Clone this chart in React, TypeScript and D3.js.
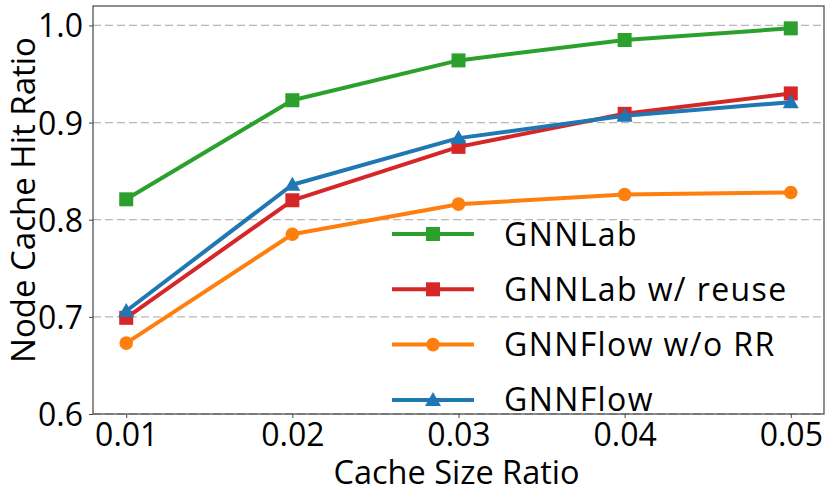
import { useEffect, useRef } from 'react';
import * as d3 from 'd3';

const cacheRatios = [0.01, 0.02, 0.03, 0.04, 0.05];
const xTicks = ['0.01', '0.02', '0.03', '0.04', '0.05'];
const yTicks = [0.6, 0.7, 0.8, 0.9, 1.0];

const gnnlab = [0.821, 0.923, 0.964, 0.985, 0.997];
const gnnlabReuse = [0.699, 0.820, 0.875, 0.909, 0.930];
const gnnflowNoRR = [0.673, 0.785, 0.816, 0.826, 0.828];
const gnnflow = [0.706, 0.836, 0.884, 0.907, 0.921];

const seriesNames = ['GNNLab', 'GNNLab w/ reuse', 'GNNFlow w/o RR', 'GNNFlow'];
const seriesColors = ['#2ca02c', '#d62728', '#ff7f0e', '#1f77b4'];
const seriesMarkers = ['square', 'square', 'circle', 'triangle'];

const FONT = '"Open Sans", sans-serif';

export default function App() {
  const svgRef = useRef<SVGSVGElement>(null);

  useEffect(() => {
    if (!svgRef.current) return;
    document.body.style.margin = '0';

    const svg = d3.select(svgRef.current);
    svg.selectAll('*').remove();

    const width = 830;
    const height = 497;
    const margin = { top: 6, right: 6, bottom: 83, left: 93 };
    const plotW = width - margin.left - margin.right;
    const plotH = height - margin.top - margin.bottom;

    const x = d3.scaleLinear().domain([0.008, 0.052]).range([0, plotW]);
    const y = d3.scaleLinear().domain([0.6, 1.02]).range([plotH, 0]);

    const g = svg.append('g').attr('transform', `translate(${margin.left},${margin.top})`);

    // Grid lines (horizontal, dashed)
    g.append('g')
      .selectAll('line')
      .data(yTicks)
      .enter()
      .append('line')
      .attr('x1', 0)
      .attr('x2', plotW)
      .attr('y1', d => y(d))
      .attr('y2', d => y(d))
      .attr('stroke', '#b8b8b8')
      .attr('stroke-width', 1.3)
      .attr('stroke-dasharray', '8,4');

    // X axis
    const xAxis = g.append('g')
      .attr('transform', `translate(0,${plotH})`)
      .call(d3.axisBottom(x)
        .tickValues(cacheRatios)
        .tickSize(4)
        .tickPadding(5)
        .tickFormat((_, i) => xTicks[i]));
    xAxis.select('.domain').remove();
    xAxis.selectAll('text').attr('font-size', 32).attr('font-family', FONT).attr('fill', '#000');
    xAxis.selectAll('line').attr('stroke', '#444');

    // Y axis
    const yAxis = g.append('g')
      .call(d3.axisLeft(y)
        .tickValues(yTicks)
        .tickSize(4)
        .tickPadding(6)
        .tickFormat(d => d3.format('.1f')(d as number)));
    yAxis.select('.domain').remove();
    yAxis.selectAll('text').attr('font-size', 32).attr('font-family', FONT).attr('fill', '#000').attr('dy', '0.36em');
    yAxis.selectAll('line').attr('stroke', '#444');

    // Frame
    g.append('rect')
      .attr('width', plotW)
      .attr('height', plotH)
      .attr('fill', 'none')
      .attr('stroke', '#444')
      .attr('stroke-width', 1.2);

    const allSeries = [gnnlab, gnnlabReuse, gnnflowNoRR, gnnflow];

    const line = d3.line<number>()
      .x((_, i) => x(cacheRatios[i]))
      .y(d => y(d));

    const drawMarker = (sel: d3.Selection<SVGGElement, unknown, null, undefined>, kind: string, cx: number, cy: number, color: string) => {
      if (kind === 'square') {
        sel.append('rect')
          .attr('x', cx - 7).attr('y', cy - 7)
          .attr('width', 14).attr('height', 14)
          .attr('fill', color);
      } else if (kind === 'circle') {
        sel.append('circle')
          .attr('cx', cx).attr('cy', cy).attr('r', 6.8)
          .attr('fill', color);
      } else {
        const s = 8;
        sel.append('path')
          .attr('d', `M${cx},${cy - s} L${cx + s},${cy + s * 0.75} L${cx - s},${cy + s * 0.75} Z`)
          .attr('fill', color);
      }
    };

    allSeries.forEach((vals, si) => {
      const sg = g.append('g');
      sg.append('path')
        .datum(vals)
        .attr('fill', 'none')
        .attr('stroke', seriesColors[si])
        .attr('stroke-width', 4)
        .attr('stroke-linejoin', 'round')
        .attr('d', line);
      vals.forEach((v, i) => drawMarker(sg, seriesMarkers[si], x(cacheRatios[i]), y(v), seriesColors[si]));
    });

    // Legend
    const legend = svg.append('g').attr('transform', 'translate(392,234)');
    seriesNames.forEach((name, i) => {
      const row = legend.append('g').attr('transform', `translate(0,${i * 55.3})`);
      row.append('line')
        .attr('x1', 0).attr('x2', 82)
        .attr('y1', 0).attr('y2', 0)
        .attr('stroke', seriesColors[i])
        .attr('stroke-width', 4);
      drawMarker(row, seriesMarkers[i], 41, 0, seriesColors[i]);
      row.append('text')
        .attr('x', 112)
        .attr('y', 0)
        .attr('dy', '0.36em')
        .attr('font-size', 32)
        .attr('letter-spacing', 1.4)
        .attr('font-family', FONT)
        .attr('fill', '#000')
        .text(name);
    });

    // Axis labels
    svg.append('text')
      .attr('x', margin.left + plotW / 2 - 2)
      .attr('y', 484)
      .attr('text-anchor', 'middle')
      .attr('font-size', 32.5)
      .attr('font-family', FONT)
      .attr('fill', '#000')
      .text('Cache Size Ratio');

    svg.append('text')
      .attr('transform', `translate(35,${margin.top + plotH / 2 - 10}) rotate(-90)`)
      .attr('text-anchor', 'middle')
      .attr('font-size', 33)
      .attr('font-family', FONT)
      .attr('fill', '#000')
      .text('Node Cache Hit Ratio');
  }, []);

  return <svg ref={svgRef} width={830} height={497} style={{ display: 'block', background: '#fff' }} />;
}
